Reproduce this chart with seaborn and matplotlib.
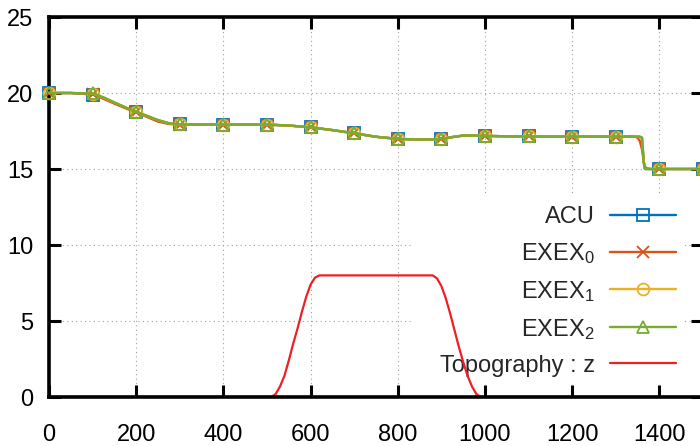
import numpy as np
import matplotlib
matplotlib.use("Agg")
import matplotlib.pyplot as plt
from matplotlib.lines import Line2D
from matplotlib.patches import Rectangle
import seaborn as sns

# Free-surface elevation along the channel for each scheme
x = [0, 50, 100, 125, 150, 175, 200, 225, 250, 275,
     300, 350, 400, 450, 500, 550, 600, 650, 700, 750,
     800, 850, 900, 925, 950, 975, 1000, 1050, 1100, 1150,
     1200, 1250, 1300, 1340, 1345, 1350, 1355, 1360, 1362, 1364,
     1366, 1368, 1372, 1380, 1400, 1450, 1500]

acu = [20.0, 20.0, 19.9, 19.66, 19.36, 19.05, 18.75, 18.47, 18.2, 18.0,
       17.93, 17.92, 17.92, 17.92, 17.92, 17.86, 17.74, 17.56, 17.35, 17.12,
       16.98, 16.94, 16.97, 17.1, 17.2, 17.2, 17.18, 17.15, 17.14, 17.13,
       17.13, 17.13, 17.13, 17.13, 17.13, 17.13, 17.12, 17.06, 16.3, 15.5,
       15.05, 15.0, 15.0, 15.0, 15.0, 15.0, 15.0]

exex0 = [20.0, 20.0, 19.93, 19.62, 19.3, 19.0, 18.72, 18.42, 18.12, 17.96,
         17.92, 17.92, 17.92, 17.92, 17.92, 17.86, 17.74, 17.56, 17.35, 17.12,
         16.98, 16.94, 16.97, 17.1, 17.2, 17.2, 17.18, 17.15, 17.14, 17.13,
         17.13, 17.13, 17.13, 17.13, 17.12, 17.05, 16.85, 16.3, 15.9, 15.5,
         15.25, 15.12, 15.03, 15.0, 15.0, 15.0, 15.0]

exex1 = [20.0, 20.0, 19.96, 19.7, 19.37, 19.06, 18.76, 18.48, 18.21, 18.01,
         17.93, 17.92, 17.92, 17.92, 17.92, 17.86, 17.74, 17.56, 17.35, 17.12,
         16.98, 16.94, 16.97, 17.1, 17.2, 17.2, 17.18, 17.15, 17.14, 17.13,
         17.13, 17.13, 17.13, 17.13, 17.13, 17.13, 17.12, 17.06, 16.3, 15.5,
         15.05, 15.0, 15.0, 15.0, 15.0, 15.0, 15.0]

exex2 = [20.0, 20.0, 19.97, 19.72, 19.38, 19.06, 18.76, 18.5, 18.22, 18.02,
         17.93, 17.92, 17.92, 17.92, 17.92, 17.86, 17.74, 17.56, 17.35, 17.12,
         16.98, 16.94, 16.97, 17.1, 17.2, 17.2, 17.18, 17.15, 17.14, 17.13,
         17.13, 17.13, 17.13, 17.13, 17.13, 17.13, 17.12, 17.06, 16.3, 15.5,
         15.05, 15.0, 15.0, 15.0, 15.0, 15.0, 15.0]

# Stations where point symbols are drawn
marker_x = [0, 100, 200, 300, 400, 500, 600, 700, 800, 900,
            1000, 1100, 1200, 1300, 1400, 1500]

# Bottom topography (bump)
topo_x = [0, 500, 510, 520, 530, 540, 550, 560, 570, 580, 590, 600, 610, 620,
          880, 890, 900, 910, 920, 930, 940, 950, 960, 970, 980, 990, 1500]
topo_z = [0.0, 0.0, 0.0, 0.2, 0.7, 1.4, 2.4, 3.5, 4.5, 5.6, 6.6, 7.4, 7.85, 8.0,
          8.0, 7.8, 7.3, 6.5, 5.5, 4.4, 3.3, 2.3, 1.4, 0.7, 0.2, 0.0, 0.0]

x_ticks = [0, 200, 400, 600, 800, 1000, 1200, 1400]
y_ticks = [0, 5, 10, 15, 20, 25]

series_names = ["ACU", "EXEX$_0$", "EXEX$_1$", "EXEX$_2$"]
topo_name = "Topography : z"

colors = ["#0072BD", "#D95319", "#EDB120", "#77AC30"]
topo_color = "#EE2024"
markers = ["s", "x", "o", "^"]

FS = 17

sns.set_style("ticks")
plt.rcParams["font.family"] = ["Liberation Sans", "DejaVu Sans"]
plt.rcParams["mathtext.fontset"] = "custom"
plt.rcParams["mathtext.rm"] = "Liberation Sans"
plt.rcParams["mathtext.default"] = "regular"

fig = plt.figure(figsize=(7, 4.46), dpi=100)
ax = fig.add_axes([49 / 700, 49 / 446, 654 / 700, 380 / 446])

mask = list(np.isin(x, marker_x))
ms = 8.5
for vals, c, m in zip([acu, exex0, exex1, exex2], colors, markers):
    sns.lineplot(x=x, y=vals, ax=ax, color=c, lw=1.7, marker=m,
                 markevery=mask, markersize=ms, mfc="none", mec=c, mew=1.3,
                 estimator=None, sort=False, legend=False, zorder=3,
                 clip_on=False)

sns.lineplot(x=topo_x, y=topo_z, ax=ax, color=topo_color, lw=1.6,
             estimator=None, sort=False, legend=False, zorder=2.4)

ax.set_xlim(0, 1500)
ax.set_ylim(0, 25)
ax.set_xticks(x_ticks)
ax.set_yticks(y_ticks)
ax.set_xlabel("")
ax.set_ylabel("")

ax.set_axisbelow(True)
ax.grid(True, color="#a0a0a0", linestyle=(0, (1, 3)), linewidth=0.8)

for sp in ax.spines.values():
    sp.set_visible(True)
    sp.set_linewidth(2.6)
    sp.set_color("black")

ax.tick_params(which="major", direction="in", length=8.6, width=2.2,
               top=True, right=True, color="black", labelsize=FS,
               labelcolor="black")
ax.tick_params(axis="x", pad=19.5)
ax.tick_params(axis="y", pad=11.5)

# white key area hiding the grid behind the legend
ax.add_patch(Rectangle((0.555, 0.035), 0.415, 0.495, transform=ax.transAxes,
                       facecolor="white", edgecolor="none", zorder=1))

handles = [Line2D([], [], color=c, lw=1.7, marker=m, markersize=ms,
                  mfc="none", mec=c, mew=1.3)
           for c, m in zip(colors, markers)]
handles.append(Line2D([], [], color=topo_color, lw=1.6))
labels = series_names + [topo_name]

leg = ax.legend(handles, labels, loc="upper right",
                bbox_to_anchor=(0.9587, 0.503), frameon=False,
                markerfirst=False, handlelength=2.8, handletextpad=0.63,
                labelspacing=0.55, borderpad=0, borderaxespad=0,
                fontsize=FS, numpoints=1)
leg.set_zorder(2.3)

fig.savefig("out.png", dpi=100)
